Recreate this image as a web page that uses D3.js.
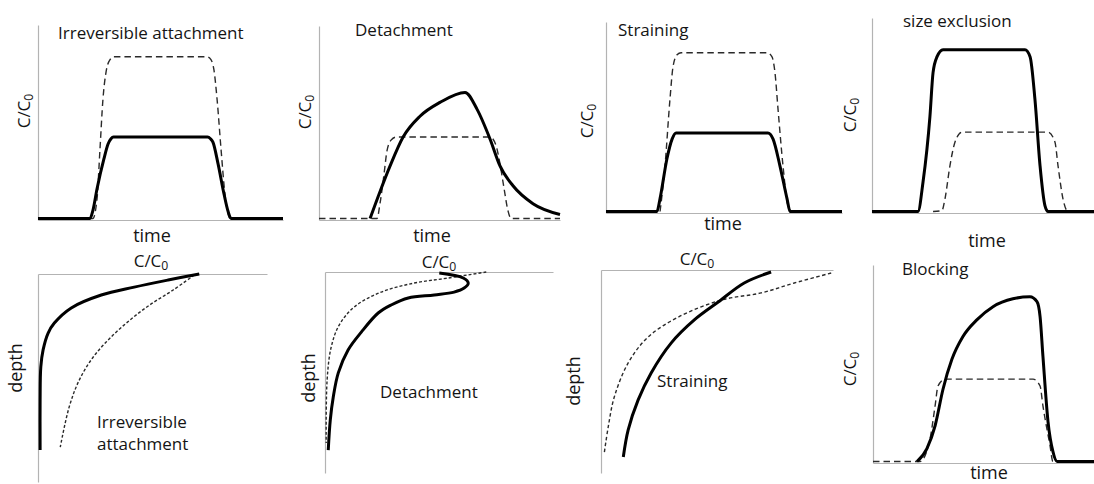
<!DOCTYPE html>
<html>
<head>
<meta charset="utf-8">
<script src="https://cdn.jsdelivr.net/npm/d3@7"></script>
<style>
  html, body { margin: 0; padding: 0; background: #fff; }
  svg { display: block; }
  text { font-family: 'Open Sans', sans-serif; fill: #141414; }
</style>
</head>
<body>
<svg id="chart" width="1094" height="484"></svg>
<script>
// ---------- DATA (time in % of axis, C/C0 in fraction of axis) ----------
// Panel 1: Irreversible attachment (breakthrough)
const p1SolidT = [0, 21.2, 22.4, 24.1, 26.9, 28.6, 29.8, 30.8, 69.2, 70.4, 71.4, 73.5, 75.9, 77.6, 78.8, 100];
const p1SolidC = [0, 0, 0.041, 0.154, 0.308, 0.385, 0.412, 0.421, 0.421, 0.412, 0.395, 0.282, 0.128, 0.036, 0, 0];
const p1DashT = [0, 22.4, 24.1, 25.3, 26.5, 27.8, 29.4, 31.0, 69.0, 70.6, 71.8, 73.1, 74.7, 76.3, 78.4, 100];
const p1DashC = [0, 0, 0.103, 0.359, 0.615, 0.759, 0.821, 0.836, 0.836, 0.821, 0.769, 0.615, 0.359, 0.128, 0, 0];

// Panel 2: Detachment (breakthrough)
const p2SolidT = [21.2, 25.3, 29.5, 34.9, 41.9, 50.2, 60.6, 65.6, 71.0, 75.1, 80.5, 88.8, 100];
const p2SolidC = [0, 0.139, 0.273, 0.423, 0.531, 0.603, 0.655, 0.567, 0.412, 0.273, 0.170, 0.077, 0.021];
const p2DashT = [0, 24.1, 25.3, 27.0, 28.2, 29.9, 32.0, 71.0, 73.4, 75.1, 76.8, 78.4, 79.7, 100];
const p2DashC = [0, 0, 0.077, 0.232, 0.351, 0.407, 0.423, 0.423, 0.381, 0.284, 0.155, 0.041, 0, 0];

// Panel 3: Straining (breakthrough)
const p3SolidT = [0, 21.6, 22.9, 25.8, 28.0, 29.7, 68.6, 70.8, 73.7, 76.7, 78.0, 100];
const p3SolidC = [0, 0, 0.068, 0.277, 0.382, 0.414, 0.414, 0.382, 0.241, 0.068, 0, 0];
const p3DashT = [22.9, 25.0, 27.1, 28.4, 30.1, 31.8, 68.2, 70.3, 71.6, 72.9, 75.0, 77.1, 78.8, 100];
const p3DashC = [0, 0.241, 0.592, 0.764, 0.827, 0.838, 0.838, 0.817, 0.733, 0.539, 0.241, 0.031, 0, 0];

// Panel 4: size exclusion (breakthrough)
const p4SolidT = [0, 20.7, 23.0, 26.1, 27.5, 29.3, 32.0, 68.9, 71.2, 73.4, 75.7, 77.9, 79.3, 100];
const p4SolidC = [0, 0, 0.154, 0.492, 0.718, 0.800, 0.836, 0.836, 0.800, 0.579, 0.236, 0.031, 0, 0];
const p4DashT = [27.5, 31.5, 32.9, 35.1, 37.4, 40.5, 79.3, 82.4, 83.8, 86.0, 88.3, 100];
const p4DashC = [0, 0.005, 0.067, 0.236, 0.359, 0.410, 0.410, 0.359, 0.236, 0.067, 0, 0];

// Panel 8: Blocking (breakthrough)
const p8SolidT = [19.9, 24.4, 28.1, 31.7, 35.7, 40.7, 47.1, 54.3, 63.3, 71.0, 74.2, 75.6, 76.9, 79.2, 81.4, 83.3, 100];
const p8SolidC = [0, 0.066, 0.182, 0.369, 0.520, 0.636, 0.722, 0.788, 0.828, 0.838, 0.813, 0.737, 0.535, 0.202, 0.051, 0, 0];
const p8DashT = [0, 21.3, 25.8, 28.1, 29.4, 32.6, 72.4, 75.6, 76.9, 80.1, 81.4, 100];
const p8DashC = [0, 0, 0.116, 0.283, 0.384, 0.419, 0.419, 0.384, 0.283, 0.081, 0, 0];

// Panel 5: Irreversible attachment (profile, depth in % of axis)
const p5SolidC = [0.699, 0.563, 0.415, 0.271, 0.140, 0.066, 0.039, 0.017, 0.007, 0.004, 0.004];
const p5SolidD = [0, 2.9, 6.3, 10.1, 16.3, 23.6, 28.4, 36.5, 44.7, 60.6, 84.6];
const p5DashC = [0.677, 0.585, 0.489, 0.402, 0.314, 0.236, 0.175, 0.131, 0.092];
const p5DashD = [0.5, 7.7, 14.4, 21.6, 30.3, 39.9, 51.0, 63.9, 83.2];

// Panel 6: Detachment (profile)
const p6SolidC = [0.496, 0.601, 0.623, 0.605, 0.561, 0.474, 0.360, 0.285, 0.228, 0.154, 0.096, 0.053, 0.031, 0.018, 0.009];
const p6SolidD = [0.5, 3.0, 5.5, 8.0, 10.0, 11.4, 12.9, 16.4, 20.4, 29.9, 38.8, 50.2, 62.2, 73.6, 88.6];
const p6DashC = [0.702, 0.535, 0.386, 0.241, 0.123, 0.057, 0.022, 0.004, 0];
const p6DashD = [0, 3.0, 5.5, 10.0, 17.4, 26.4, 37.3, 53.7, 85.1];

// Panel 7: Straining (profile)
const p7SolidC = [0.728, 0.612, 0.500, 0.397, 0.297, 0.211, 0.155, 0.112, 0.091];
const p7SolidD = [1.0, 6.4, 15.8, 24.6, 36.0, 50.7, 64.0, 78.8, 92.1];
const p7DashC = [0.987, 0.828, 0.685, 0.513, 0.328, 0.198, 0.112, 0.052, 0.026, 0.009];
const p7DashD = [1.5, 6.4, 11.3, 14.8, 23.2, 33.0, 45.8, 62.6, 77.3, 90.1];

// Labels
const timeTitles = ["Irreversible attachment", "Detachment", "Straining", "size exclusion", "Blocking"];
const profileTitles = [["Irreversible", "attachment"], ["Detachment"], ["Straining"]];
const timeLabel = "time";
const depthLabel = "depth";
const concLabel = ["C/C", "0"];

// ---------- LAYOUT ----------
const svg = d3.select("#chart");
const AXIS = "#b3b3b3";

const zip = (a, b) => a.map((v, i) => [v, b[i]]);

const timePanels = [
  { x0: 38, x1: 283, y0: 220, y1: 25, solid: zip(p1SolidT, p1SolidC), dash: zip(p1DashT, p1DashC), dashArr: "6.5,4",
    title: timeTitles[0], tx: 58, ty: 39, lx: 152, ly: 242, cx: 30, cy: 111 },
  { x0: 319, x1: 560, y0: 220, y1: 26, solid: zip(p2SolidT, p2SolidC), dash: zip(p2DashT, p2DashC), dashArr: "6.5,4",
    title: timeTitles[1], tx: 355, ty: 36, lx: 432, ly: 242, cx: 311, cy: 112 },
  { x0: 606, x1: 842, y0: 213, y1: 22, solid: zip(p3SolidT, p3SolidC), dash: zip(p3DashT, p3DashC), dashArr: "6.5,4",
    title: timeTitles[2], tx: 618, ty: 36, lx: 723, ly: 230, cx: 593, cy: 121 },
  { x0: 872, x1: 1094, y0: 213, y1: 18, solid: zip(p4SolidT, p4SolidC), dash: zip(p4DashT, p4DashC), dashArr: "6.5,4",
    title: timeTitles[3], tx: 903, ty: 27, lx: 987, ly: 247, cx: 856, cy: 115 },
  { x0: 873, x1: 1094, y0: 463, y1: 265, solid: zip(p8SolidT, p8SolidC), dash: zip(p8DashT, p8DashC), dashArr: "6.5,4",
    title: timeTitles[4], tx: 902, ty: 275, lx: 989, ly: 479, cx: 856, cy: 369 }
];

const profilePanels = [
  { x0: 38, x1: 267, y0: 274, y1: 482, solid: zip(p5SolidC, p5SolidD), dash: zip(p5DashC, p5DashD), dashArr: "3,2",
    labels: profileTitles[0], tx: 97, ty: 428, cx: 151, cy: 267, dx: 22, dy: 368 },
  { x0: 325, x1: 553, y0: 272, y1: 473, solid: zip(p6SolidC, p6SolidD), dash: zip(p6DashC, p6DashD), dashArr: "3,2",
    labels: profileTitles[1], tx: 380, ty: 398, cx: 439, cy: 268, dx: 315, dy: 378 },
  { x0: 601, x1: 833, y0: 270, y1: 473, solid: zip(p7SolidC, p7SolidD), dash: zip(p7DashC, p7DashD), dashArr: "3.5,2.5",
    labels: profileTitles[2], tx: 657, ty: 387, cx: 697, cy: 265, dx: 580, dy: 381 }
];

function concText(sel, x, y, anchor, rotate, size) {
  const t = sel.append("text")
    .attr("transform", `translate(${x},${y})` + (rotate ? " rotate(-90)" : ""))
    .attr("text-anchor", anchor)
    .style("font-size", size + "px");
  t.append("tspan").text(concLabel[0]);
  t.append("tspan").attr("dy", "0.28em").style("font-size", (size * 0.72) + "px").text(concLabel[1]);
  return t;
}

function styleAxis(g) {
  g.select(".domain").attr("stroke", AXIS).attr("stroke-width", 1.2);
  g.selectAll(".tick").remove();
}

// ---------- TIME (breakthrough) PANELS ----------
timePanels.forEach(p => {
  const g = svg.append("g");
  const x = d3.scaleLinear().domain([0, 100]).range([p.x0, p.x1]);
  const y = d3.scaleLinear().domain([0, 1]).range([p.y0 - 1.5, p.y1]);
  const yAxisScale = d3.scaleLinear().domain([0, 1]).range([p.y0, p.y1]);

  g.append("g").attr("transform", `translate(0,${p.y0})`)
    .call(d3.axisBottom(x).tickValues([]).tickSizeOuter(0)).call(styleAxis);
  g.append("g").attr("transform", `translate(${p.x0},0)`)
    .call(d3.axisLeft(yAxisScale).tickValues([]).tickSizeOuter(0)).call(styleAxis);

  const line = d3.line().x(d => x(d[0])).y(d => y(d[1])).curve(d3.curveMonotoneX);

  g.append("path").datum(p.dash).attr("d", line)
    .attr("fill", "none").attr("stroke", "#2a2a2a").attr("stroke-width", 1.4)
    .attr("stroke-dasharray", p.dashArr);
  g.append("path").datum(p.solid).attr("d", line)
    .attr("fill", "none").attr("stroke", "#000").attr("stroke-width", 3)
    .attr("stroke-linejoin", "round");

  g.append("text").attr("x", p.tx).attr("y", p.ty).style("font-size", "17px").text(p.title);
  g.append("text").attr("x", p.lx).attr("y", p.ly).attr("text-anchor", "middle")
    .style("font-size", "18px").text(timeLabel);
  concText(g, p.cx, p.cy, "middle", true, 17);
});

// ---------- DEPTH PROFILE PANELS ----------
profilePanels.forEach(p => {
  const g = svg.append("g");
  const x = d3.scaleLinear().domain([0, 1]).range([p.x0, p.x1]);
  const y = d3.scaleLinear().domain([0, 100]).range([p.y0, p.y1]);

  g.append("g").attr("transform", `translate(0,${p.y0})`)
    .call(d3.axisTop(x).tickValues([]).tickSizeOuter(0)).call(styleAxis);
  g.append("g").attr("transform", `translate(${p.x0},0)`)
    .call(d3.axisLeft(y).tickValues([]).tickSizeOuter(0)).call(styleAxis);

  const line = d3.line().x(d => x(d[0]) + 1.2).y(d => y(d[1])).curve(d3.curveCatmullRom.alpha(0.5));

  g.append("path").datum(p.dash).attr("d", line)
    .attr("fill", "none").attr("stroke", "#2a2a2a").attr("stroke-width", 1.4)
    .attr("stroke-dasharray", p.dashArr);
  g.append("path").datum(p.solid).attr("d", line)
    .attr("fill", "none").attr("stroke", "#000").attr("stroke-width", 3)
    .attr("stroke-linejoin", "round");

  p.labels.forEach((s, i) => {
    g.append("text").attr("x", p.tx).attr("y", p.ty + i * 22).style("font-size", "17px").text(s);
  });
  concText(g, p.cx, p.cy, "middle", false, 17);
  g.append("text").attr("transform", `translate(${p.dx},${p.dy}) rotate(-90)`)
    .attr("text-anchor", "middle").style("font-size", "18px").text(depthLabel);
});
</script>
</body>
</html>
